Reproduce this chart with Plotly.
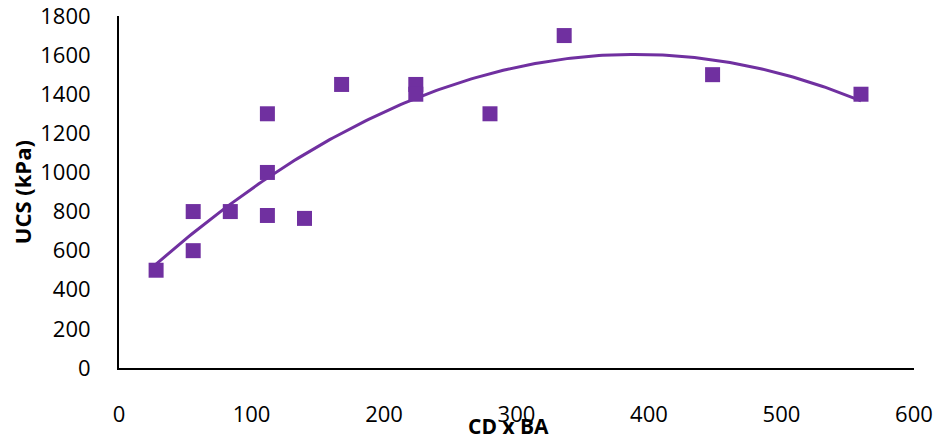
import numpy as np
import plotly.graph_objects as go

# Measured samples: product CD x BA against unconfined compressive strength
cd_x_ba = [28, 56, 56, 84, 112, 112, 112, 140, 168, 224, 224, 280, 336, 448, 560]
ucs_kpa = [500, 600, 800, 800, 1300, 1000, 780, 765, 1450, 1450, 1400, 1300, 1700, 1500, 1400]

x_ticks = [0, 100, 200, 300, 400, 500, 600]
y_ticks = [0, 200, 400, 600, 800, 1000, 1200, 1400, 1600, 1800]

PURPLE = "#7030A0"
FONT = "Open Sans"

# Second-order polynomial trendline over the sampled range
coef = np.polyfit(cd_x_ba, ucs_kpa, 2)
xs = np.linspace(min(cd_x_ba), max(cd_x_ba), 200)
ys = np.polyval(coef, xs)

fig = go.Figure()
fig.add_trace(go.Scatter(
    x=xs, y=ys, mode="lines",
    line=dict(color=PURPLE, width=3),
    hoverinfo="skip", showlegend=False,
))
fig.add_trace(go.Scatter(
    x=cd_x_ba, y=ucs_kpa, mode="markers",
    marker=dict(symbol="square", size=15, color=PURPLE, line=dict(width=0)),
    showlegend=False,
))

fig.update_layout(
    width=937, height=438,
    margin=dict(l=119, r=23, t=16, b=70, autoexpand=False),
    paper_bgcolor="white", plot_bgcolor="white",
    font=dict(family=FONT, size=22, color="#000000"),
    xaxis=dict(
        range=[0, 600.01], tickvals=x_ticks, ticktext=[str(v) for v in x_ticks],
        showgrid=False, zeroline=False, automargin=False,
        showline=True, linecolor="#000000", linewidth=2,
        ticks="", ticklabelstandoff=26, ticklabeloverflow="allow",
        tickfont=dict(family=FONT, size=22, color="#000000"),
    ),
    yaxis=dict(
        range=[0, 1800.01], tickvals=y_ticks, ticktext=[str(v) for v in y_ticks],
        showgrid=False, zeroline=False, automargin=False,
        showline=True, linecolor="#000000", linewidth=2,
        ticks="", ticklabelstandoff=22, ticklabeloverflow="allow",
        tickfont=dict(family=FONT, size=22, color="#000000"),
    ),
    annotations=[
        dict(text="<b>CD x BA</b>", xref="paper", yref="paper",
             x=(508 - 119) / (914 - 119), y=0, yshift=-58,
             xanchor="center", yanchor="middle", showarrow=False,
             font=dict(family=FONT, size=21, color="#000000")),
        dict(text="<b>UCS (kPa)</b>", xref="paper", yref="paper",
             x=0, xshift=-97, y=(367.5 - 192) / (367.5 - 16),
             xanchor="center", yanchor="middle", textangle=-90, showarrow=False,
             font=dict(family=FONT, size=22, color="#000000")),
    ],
)

fig.write_html("out.html")
